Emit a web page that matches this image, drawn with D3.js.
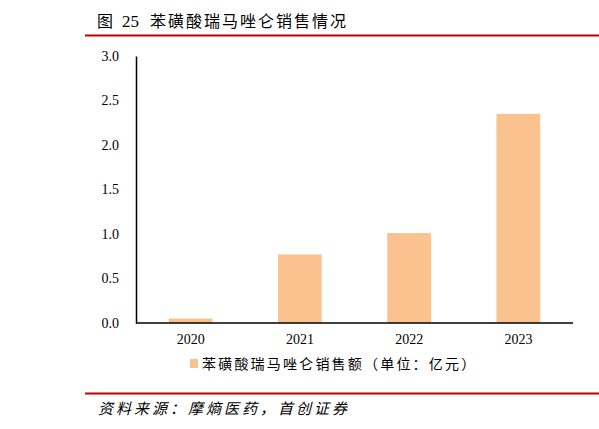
<!DOCTYPE html>
<html>
<head>
<meta charset="utf-8">
<script src="https://cdn.jsdelivr.net/npm/d3@7"></script>
<style>
  body { margin: 0; background: #fff; }
  svg text { fill: #000; }
</style>
</head>
<body>
<div id="chart"></div>
<script>
// data
var years = ["2020", "2021", "2022", "2023"];
var sales = [0.05, 0.77, 1.01, 2.35];
var yTicks = [0, 0.5, 1.0, 1.5, 2.0, 2.5, 3.0];
var seriesName = "苯磺酸瑞马唑仑销售额（单位：亿元）";
var titleParts = ["图", "25", "苯磺酸瑞马唑仑销售情况"];
var sourceText = "资料来源：摩熵医药，首创证券";

var W = 599, H = 429;
var plot = {left: 136, right: 573, top: 56, bottom: 323};
var serif = "'Liberation Serif', 'Times New Roman', 'Noto Sans CJK SC', serif";
var cjk = "'Noto Sans CJK SC', sans-serif";
var barColor = "#f9c28f";
var ruleColor = "#c00000";

var svg = d3.select("#chart").append("svg")
    .attr("width", W)
    .attr("height", H);

// title: "图 25 ..." with the figure number in serif
var title = svg.append("text")
    .attr("y", 27)
    .style("font-size", "16px");
title.append("tspan").attr("x", 97).style("font-family", cjk).text(titleParts[0]);
title.append("tspan").attr("x", 122).style("font-family", serif).style("font-size", "17px").text(titleParts[1]);
title.append("tspan").attr("x", 150).style("font-family", cjk).style("letter-spacing", "2px").text(titleParts[2]);

svg.append("line")
    .attr("x1", 85).attr("x2", W).attr("y1", 35.5).attr("y2", 35.5)
    .attr("stroke", ruleColor).attr("stroke-width", 2);

var x = d3.scaleBand()
    .domain(years)
    .range([plot.left, plot.right])
    .paddingInner(0.6)
    .paddingOuter(0.3);

var y = d3.scaleLinear()
    .domain([0, 3])
    .range([plot.bottom, plot.top]);

// bars
svg.append("g").selectAll("rect")
    .data(years)
    .enter().append("rect")
      .attr("x", function(d) { return x(d); })
      .attr("y", function(d, i) { return y(sales[i]); })
      .attr("width", x.bandwidth())
      .attr("height", function(d, i) { return y(0) - y(sales[i]); })
      .attr("fill", barColor);

// y axis
var yAxis = svg.append("g")
    .attr("transform", "translate(" + plot.left + ",0)")
    .call(d3.axisLeft(y).tickValues(yTicks).tickFormat(d3.format(".1f")).tickSize(0).tickPadding(17));
yAxis.select(".domain").attr("stroke", "#000").attr("stroke-width", 1.5);
yAxis.selectAll("text").style("font-family", serif).style("font-size", "14px");

// x axis
var xAxis = svg.append("g")
    .attr("transform", "translate(0," + plot.bottom + ")")
    .call(d3.axisBottom(x).tickSize(0).tickPadding(11));
xAxis.select(".domain").attr("stroke", "#000").attr("stroke-width", 1.5)
    .attr("d", "M" + plot.left + ",0H" + plot.right);
xAxis.selectAll("text").style("font-family", serif).style("font-size", "14px");

// legend
svg.append("rect")
    .attr("x", 190).attr("y", 359).attr("width", 8).attr("height", 9)
    .attr("fill", barColor);
svg.append("text")
    .attr("x", 202).attr("y", 369)
    .style("font-family", cjk)
    .style("font-size", "14px")
    .style("letter-spacing", "2.2px")
    .text(seriesName);

// bottom rule + source
svg.append("line")
    .attr("x1", 85).attr("x2", W).attr("y1", 393.5).attr("y2", 393.5)
    .attr("stroke", ruleColor).attr("stroke-width", 2);
svg.append("text")
    .attr("x", 98).attr("y", 414)
    .style("font-family", cjk)
    .style("font-size", "15px")
    .style("font-style", "italic")
    .style("letter-spacing", "3px")
    .text(sourceText);
</script>
</body>
</html>
